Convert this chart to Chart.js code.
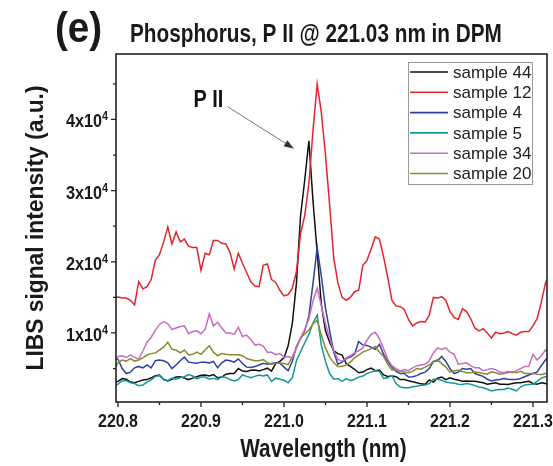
<!DOCTYPE html>
<html>
<head>
<meta charset="utf-8">
<script src="https://cdn.jsdelivr.net/npm/chart.js@4.4.1/dist/chart.umd.min.js"></script>
<style>
  html, body { margin: 0; padding: 0; background: #fff; }
</style>
</head>
<body>
<canvas id="libs" width="553" height="466"></canvas>
<script>
// spectrometer grid, 0.005 nm steps
var wavelength = [];
for (var i = 0; i < 106; i++) wavelength.push(+(220.795 + 0.005 * i).toFixed(3));

var sample44 = [3000, 3200, 3600, 3500, 3100, 3000, 3200, 3400, 3450, 3700,
  4000, 4100, 3450, 3250, 3500, 3800, 3850, 3650, 3450, 3650,
  3850, 4050, 4100, 3950, 4150, 3700, 3800, 4200, 4300, 4300,
  5000, 4650, 4600, 4750, 4800, 4650, 4850, 5050, 4650, 5700,
  6000, 6500, 8200, 11300, 17000, 26500, 31500, 37000, 28500, 21300,
  14000, 10300, 8700, 7500, 7100, 6900, 5700, 5300, 4900, 4400,
  4500, 4850, 5050, 4700, 4800, 4100, 3900, 3950, 3850, 3450,
  3450, 3300, 3150, 3000, 2850, 2800, 3400, 3100, 3650, 3800,
  3450, 3700, 3500, 3400, 3200, 3250, 3200, 3200, 3100, 3000,
  2800, 2900, 3000, 2800, 2800, 2750, 2900, 3000, 3000, 3100,
  3200, 2900, 2800, 3000, 2900, 2750];

var sample12 = [15000, 15050, 14900, 14900, 14600, 13950, 17200, 16200, 16500, 17500,
  20200, 21000, 22800, 24900, 22500, 24200, 22800, 23200, 22200, 22000,
  22000, 18800, 21200, 21000, 23000, 23000, 22600, 22500, 21300, 19000,
  21200, 19800, 18500, 17200, 16600, 16500, 19500, 19700, 17500, 17100,
  16000, 15200, 15400, 16300, 18600, 24000, 26500, 31000, 38500, 45000,
  41000, 35000, 28000, 20500, 17000, 15000, 14600, 15000, 15800, 16000,
  19500, 20200, 21800, 23500, 23200, 20700, 17800, 14600, 13800, 13700,
  13300, 11900, 11000, 11400, 11600, 11500, 12500, 15000, 14900, 15100,
  14600, 13000, 12200, 11900, 13400, 13000, 12000, 10700, 10300, 10600,
  10000, 9300, 10100, 9900, 10000, 10200, 9900, 9700, 10100, 10200,
  10200, 11000, 12000, 14300, 17000, 18400];

var sample4 = [6600, 6300, 5000, 4300, 4500, 5100, 5300, 5100, 5500, 5100,
  6100, 6200, 6100, 5800, 5000, 5500, 6100, 6600, 5900, 5800,
  5750, 5900, 5900, 5800, 6000, 5100, 5800, 6200, 6100, 5900,
  6350, 5700, 5200, 5150, 5300, 5500, 5750, 5600, 5700, 5800,
  5750, 5200, 4700, 6000, 8100, 9200, 10300, 12400, 17000, 22000,
  18000, 13500, 10300, 7300, 5600, 5900, 6400, 6600, 7000, 8800,
  8300, 8250, 8000, 7700, 8400, 7000, 6000, 5200, 4600, 4300,
  4300, 3800, 3850, 4000, 4300, 4500, 5000, 6000, 6100, 6700,
  6000, 5000, 4300, 4500, 5000, 4900, 5000, 4300, 4100, 3900,
  3500, 3250, 3400, 3450, 3600, 3500, 3450, 3450, 3600, 3850,
  4100, 4300, 4500, 5400, 6200, 6900];

var sample5 = [2500, 2800, 3300, 3300, 3000, 2900, 2600, 2700, 3100, 3400,
  3900, 4000, 3500, 3300, 3650, 3500, 3700, 3850, 4150, 3950,
  3550, 3800, 3800, 3500, 3650, 3450, 3850, 3750, 3450, 3250,
  3450, 4100, 3900, 3700, 3900, 4100, 3950, 4100, 3200, 3650,
  3500, 3350, 3000, 3700, 6100, 7400, 8600, 9800, 11400, 12500,
  8300, 6000, 4300, 3500, 3600, 3200, 3600, 3300, 3500, 3800,
  3950, 4300, 4500, 4700, 4600, 3600, 3700, 4000, 2900, 2400,
  2300, 2300, 2450, 2500, 2650, 2700, 2900, 3500, 3500, 3350,
  3100, 3000, 2950, 2800, 2750, 2900, 2800, 2600, 2400, 2300,
  2100, 1850, 2000, 2050, 2050, 2250, 2100, 1850, 2400, 2700,
  2750, 2800, 3200, 3650, 3850, 4000];

var sample34 = [6300, 6700, 6800, 6550, 6900, 6600, 6300, 7500, 8700, 9400,
  10400, 11200, 11600, 11300, 10500, 10700, 10900, 11000, 9900, 10200,
  10300, 9900, 10500, 12700, 11000, 11500, 10700, 10000, 10000, 9800,
  10800, 9500, 9700, 9100, 8300, 8400, 8150, 7300, 7300, 6950,
  7100, 6600, 6700, 6500, 7900, 9300, 10500, 12000, 14500, 16300,
  13800, 11300, 9300, 7500, 6300, 6000, 6500, 6800, 7200, 7500,
  7900, 9000, 9800, 10100, 9200, 7800, 6300, 5400, 5000, 4650,
  4850, 4700, 5100, 5400, 5500, 5600, 6100, 7200, 7900, 7700,
  7900, 7300, 7000, 5600, 5700, 5800, 5400, 5100, 5100, 4700,
  4850, 5000, 4850, 4500, 4400, 4600, 4400, 4700, 5000, 5300,
  5300, 7000, 6200, 6800, 7600, 6800];

var sample20 = [4900, 5800, 6200, 6050, 6400, 6050, 6200, 6500, 6900, 7100,
  7200, 7600, 8000, 8700, 7700, 7600, 7200, 7600, 6900, 7000,
  7300, 7000, 7600, 8200, 7300, 6800, 7100, 7000, 6950, 6950,
  6950, 6800, 6400, 6250, 6100, 6100, 6250, 5850, 5600, 5700,
  5790, 5700, 5550, 6600, 7900, 9300, 9900, 10400, 11300, 11800,
  9700, 7900, 6600, 5800, 5300, 5300, 5500, 5900, 6500, 6900,
  7300, 7550, 7800, 8100, 7300, 6700, 5600, 4800, 4800, 4650,
  4500, 4400, 4600, 5000, 4900, 5200, 5500, 6000, 6250, 5700,
  5200, 4500, 4700, 4750, 4600, 4400, 4400, 4500, 4450, 4300,
  4200, 4550, 4400, 4200, 4300, 4450, 4550, 4400, 4600, 4300,
  4300, 4300, 4200, 4150, 4300, 4600];

var seriesNames = ['sample 44', 'sample 12', 'sample 4', 'sample 5', 'sample 34', 'sample 20'];
var seriesData = [sample44, sample12, sample4, sample5, sample34, sample20];
var seriesColors = ['#111111', '#e3262b', '#2f42a0', '#16989a', '#c86bc2', '#8c8a30'];

var xTicks = [220.8, 220.9, 221.0, 221.1, 221.2, 221.3];
var xMinorTicks = [220.85, 220.95, 221.05, 221.15, 221.25];
var xTickLabels = ['220.8', '220.9', '221.0', '221.1', '221.2', '221.3'];
var yTicks = [10000, 20000, 30000, 40000];
var yMinorTicks = [5000, 15000, 25000, 35000, 45000];
var yTickMantissa = ['1', '2', '3', '4'];

// P II line marker: label position, arrow start, arrow tip (nm, counts)
var peakLabel = [220.891, 41700];
var arrowFrom = [220.932, 41800];
var arrowTo = [221.012, 35900];

var SANS = "'Liberation Sans', Arial, sans-serif";

// condensed text: canvas text squeezed along its own direction
function squeezed(ctx, text, x, y, font, sx, align, angle) {
  ctx.save();
  ctx.font = font;
  ctx.translate(x, y);
  if (angle) ctx.rotate(angle);
  ctx.scale(sx, 1);
  ctx.textAlign = align || 'left';
  ctx.textBaseline = 'alphabetic';
  ctx.fillText(text, 0, 0);
  ctx.restore();
}

var datasets = seriesData.map(function (vals, k) {
  return {
    label: seriesNames[k],
    data: vals.map(function (v, i) { return { x: wavelength[i], y: v }; }),
    borderColor: seriesColors[k],
    borderWidth: 1.5,
    pointRadius: 0,
    tension: 0,
    fill: false
  };
});
// black is painted last
var order = [1, 4, 5, 2, 3, 0];
datasets.forEach(function (d, k) { d.order = order.indexOf(k); });

var decorations = {
  id: 'decorations',
  afterDraw: function (chart) {
    var ctx = chart.ctx;
    var a = chart.chartArea;
    var xs = chart.scales.x, ys = chart.scales.y;
    ctx.save();

    // major and minor ticks, pointing outwards
    ctx.strokeStyle = '#222';
    ctx.lineWidth = 1.3;
    ctx.beginPath();
    xs.ticks.forEach(function (t) {
      var px = xs.getPixelForValue(t.value);
      ctx.moveTo(px, a.bottom); ctx.lineTo(px, a.bottom + 5);
    });
    xMinorTicks.forEach(function (v) {
      var px = xs.getPixelForValue(v);
      ctx.moveTo(px, a.bottom); ctx.lineTo(px, a.bottom + 3);
    });
    ys.ticks.forEach(function (t) {
      var py = ys.getPixelForValue(t.value);
      ctx.moveTo(a.left, py); ctx.lineTo(a.left - 5, py);
    });
    yMinorTicks.forEach(function (v) {
      var py = ys.getPixelForValue(v);
      ctx.moveTo(a.left, py); ctx.lineTo(a.left - 3, py);
    });
    ctx.stroke();

    // frame
    ctx.lineWidth = 1.6;
    ctx.strokeRect(a.left, a.top, a.right - a.left, a.bottom - a.top);

    // tick labels
    ctx.fillStyle = '#1a1a1a';
    xs.ticks.forEach(function (t, i) {
      squeezed(ctx, xTickLabels[i], xs.getPixelForValue(t.value), a.bottom + 25,
        'bold 19px ' + SANS, 0.84, 'center');
    });
    ys.ticks.forEach(function (t, i) {
      var py = ys.getPixelForValue(t.value);
      ctx.font = 'bold 12px ' + SANS;
      var wSup = ctx.measureText('4').width * 0.9;
      squeezed(ctx, '4', a.left - 8, py + 1, 'bold 12px ' + SANS, 0.9, 'right');
      squeezed(ctx, yTickMantissa[i] + 'x10', a.left - 8 - wSup, py + 8, 'bold 18px ' + SANS, 0.9, 'right');
    });

    // legend
    var lx = 408, ly = 62, lw = 124, lh = 122;
    ctx.fillStyle = '#fff';
    ctx.fillRect(lx, ly, lw, lh);
    ctx.strokeStyle = '#999';
    ctx.lineWidth = 1;
    ctx.strokeRect(lx + 0.5, ly + 0.5, lw, lh);
    ctx.font = '17px ' + SANS;
    ctx.textBaseline = 'middle';
    ctx.textAlign = 'left';
    chart.data.datasets.forEach(function (d, k) {
      var ry = ly + 10 + k * 20.3;
      ctx.strokeStyle = d.borderColor;
      ctx.lineWidth = 1.6;
      ctx.beginPath();
      ctx.moveTo(lx + 2, ry); ctx.lineTo(lx + 40, ry);
      ctx.stroke();
      ctx.fillStyle = '#222';
      ctx.fillText(d.label, lx + 45, ry + 1);
    });

    // P II marker
    var fx = xs.getPixelForValue(arrowFrom[0]), fy = ys.getPixelForValue(arrowFrom[1]);
    var tx = xs.getPixelForValue(arrowTo[0]), ty = ys.getPixelForValue(arrowTo[1]);
    var ang = Math.atan2(ty - fy, tx - fx);
    ctx.strokeStyle = '#666';
    ctx.fillStyle = '#333';
    ctx.lineWidth = 0.9;
    ctx.beginPath();
    ctx.moveTo(fx, fy); ctx.lineTo(tx - 6 * Math.cos(ang), ty - 6 * Math.sin(ang));
    ctx.stroke();
    ctx.beginPath();
    ctx.moveTo(tx, ty);
    ctx.lineTo(tx - 10 * Math.cos(ang) + 3.5 * Math.sin(ang), ty - 10 * Math.sin(ang) - 3.5 * Math.cos(ang));
    ctx.lineTo(tx - 10 * Math.cos(ang) - 3.5 * Math.sin(ang), ty - 10 * Math.sin(ang) + 3.5 * Math.cos(ang));
    ctx.closePath();
    ctx.fill();
    ctx.fillStyle = '#111';
    squeezed(ctx, 'P II', xs.getPixelForValue(peakLabel[0]), ys.getPixelForValue(peakLabel[1]),
      'bold 24px ' + SANS, 0.83, 'left');

    // headings and axis titles
    ctx.fillStyle = '#1a1a1a';
    squeezed(ctx, '(e)', 55, 42, 'bold 42px ' + SANS, 0.92, 'left');
    squeezed(ctx, 'Phosphorus, P II @ 221.03 nm in DPM', 130, 42, 'bold 25px ' + SANS, 0.83, 'left');
    squeezed(ctx, 'Wavelength (nm)', (a.left + a.right) / 2 - 8, 457, 'bold 25px ' + SANS, 0.83, 'center');
    squeezed(ctx, 'LIBS signal intensity (a.u.)', 43, 228, 'bold 24px ' + SANS, 0.95, 'center', -Math.PI / 2);
    ctx.restore();
  }
};

new Chart(document.getElementById('libs'), {
  type: 'line',
  data: { datasets: datasets },
  options: {
    responsive: false,
    animation: false,
    layout: { padding: { top: 54, right: 6, left: 0, bottom: 0 } },
    plugins: { legend: { display: false }, tooltip: { enabled: false } },
    scales: {
      x: {
        type: 'linear',
        min: 220.7976,
        max: 221.3169,
        border: { display: false },
        grid: { display: false },
        afterBuildTicks: function (s) { s.ticks = xTicks.map(function (v) { return { value: v }; }); },
        afterFit: function (s) { s.height = 64; },
        ticks: { display: false }
      },
      y: {
        min: 300,
        max: 49200,
        border: { display: false },
        grid: { display: false },
        afterBuildTicks: function (s) { s.ticks = yTicks.map(function (v) { return { value: v }; }); },
        afterFit: function (s) { s.width = 116; },
        ticks: { display: false }
      }
    }
  },
  plugins: [decorations]
});
</script>
</body>
</html>
